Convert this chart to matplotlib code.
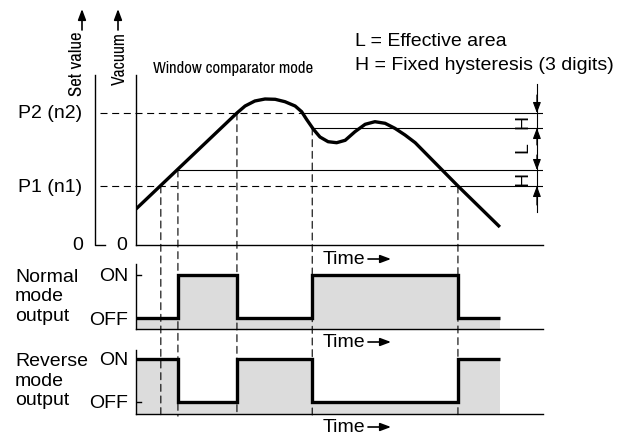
import matplotlib
matplotlib.use('Agg')
import matplotlib.pyplot as plt
from matplotlib.patches import ConnectionPatch, FancyArrowPatch
from matplotlib import font_manager as fm

plt.rcParams['font.family'] = ['Liberation Sans', 'DejaVu Sans']

# ---------------- data ----------------
# vacuum curve (time 0..100, vacuum in arbitrary units)
curve_t = [0, 24.8, 26.8, 29.2, 31.7, 34.2, 36.6, 39.1, 40.7, 41.9, 43.6, 45.2,
           47.2, 49.3, 51.4, 53.8, 56.3, 58.7, 61.2, 63.6, 66.1, 68.6, 79.1, 89.4]
curve_v = [36, 132, 139, 144, 146, 145.7, 143.3, 139, 133.3, 125.7, 115.7, 108,
           103.3, 102.3, 104.7, 113.3, 120.7, 123.3, 121.7, 116.7, 110, 102.3, 59, 18]

# set values
P1 = 59
P1H = 75      # P1 + H
P2H = 117     # P2 - H
P2 = 132

# crossing times
t_p1_rise = 6.1
t_on1 = 10.3
t_off1 = 24.8
t_p2_fall = 40.9
t_on2 = 43.3
t_off2 = 79.1
t_end = 89.4

guide_t = [t_p1_rise, t_on1, t_off1, t_on2, t_off2]
guide_v = [P1, P1H, P2, P2H, P1]

# outputs (step, post)
sig_t = [0, t_on1, t_off1, t_on2, t_off2, t_end]
normal_out = [0, 1, 0, 1, 0, 0]
reverse_out = [1, 0, 1, 0, 1, 1]

# ---------------- figure ----------------
W, H = 630, 439
fig = plt.figure(figsize=(W / 100, H / 100), dpi=100)
_r = fig.canvas.get_renderer()

# choose a condensed face whose proportions best match the reference
WIN_TXT = 'Window comparator mode'
_fnames = set()
for f in fm.fontManager.ttflist:
    key = (f.name + ' ' + f.fname).lower()
    if ('narrow' in key or 'condensed' in key) and f.style == 'normal' \
            and f.weight in (400, 'normal', 'regular'):
        _fnames.add(f.fname)
best = (abs(10 - 13), fm.FontProperties(family=['Liberation Sans', 'DejaVu Sans']))
for fn in sorted(_fnames):
    try:
        fp = fm.FontProperties(fname=fn, size=12)
        w, h, d = _r.get_text_width_height_descent(WIN_TXT, fp, ismath=False)
        fitted = 12 * 160 / w
        if abs(fitted - 13) < best[0]:
            best = (abs(fitted - 13), fm.FontProperties(fname=fn))
    except Exception:
        pass
NARROW_FP = best[1]

AX_L, AX_R = 136, 543


def px_axes(x0, x1, ytop, ybot):
    return fig.add_axes([x0 / W, 1 - ybot / H, (x1 - x0) / W, (ybot - ytop) / H])


def fx(x):
    return x / W


def fy(y):
    return 1 - y / H


def afrac(xpx):
    return (xpx - AX_L) / (AX_R - AX_L)


ax_top = px_axes(AX_L, AX_R, 76, 246)
ax_mid = px_axes(AX_L, AX_R, 265, 330)
ax_bot = px_axes(AX_L, AX_R, 351, 415)

ax_top.set_ylim(0, 170)
ax_mid.set_ylim(-0.256, 1.256)
ax_bot.set_ylim(-0.28, 1.21)

for ax in (ax_top, ax_mid, ax_bot):
    ax.set_xlim(0, 100)
    ax.set_facecolor('none')
    for s in ('top', 'right'):
        ax.spines[s].set_visible(False)
    for s in ('left', 'bottom'):
        ax.spines[s].set_linewidth(1.0)
    ax.set_xticks([])
    ax.set_yticks([])

K = 'black'
THIN = 0.8
DASH = (0, (6.3, 4.2))
FS = 14

# ---------- top panel ----------
XL = (100 - AX_L) / (AX_R - AX_L) * 100  # dashed lines start just right of set-value axis
ax_top.plot([XL, t_p2_fall], [P2, P2], color=K, lw=THIN, ls=DASH, clip_on=False)
ax_top.plot([t_p2_fall, 100], [P2, P2], color=K, lw=THIN)
ax_top.plot([t_on2, 100], [P2H, P2H], color=K, lw=THIN)
ax_top.plot([t_on1, 100], [P1H, P1H], color=K, lw=THIN)
ax_top.plot([XL, t_off2], [P1, P1], color=K, lw=THIN, ls=DASH, clip_on=False)
ax_top.plot([t_off2, 100], [P1, P1], color=K, lw=THIN)

ax_top.plot(curve_t, curve_v, color=K, lw=2.4, solid_joinstyle='round',
            solid_capstyle='butt', zorder=5)

# set value axis
yt = ax_top.get_yaxis_transform()
ax_top.plot([afrac(95), afrac(95), afrac(105)], [170, 0, 0], color=K, lw=1.0,
            transform=yt, clip_on=False)
ax_top.text(afrac(82), P2, 'P2 (n2)', transform=yt, ha='right', va='center', fontsize=FS)
ax_top.text(afrac(82), P1, 'P1 (n1)', transform=yt, ha='right', va='center', fontsize=FS)
ax_top.text(afrac(78), 0, '0', transform=yt, ha='center', va='center', fontsize=FS)
ax_top.text(afrac(122), 0, '0', transform=yt, ha='center', va='center', fontsize=FS)

# dimension marker on the right
t_dim = 98.5
ax_top.plot([t_dim, t_dim], [33, 161], color=K, lw=THIN, clip_on=False)
ap = dict(arrowstyle='-|>,head_length=0.8,head_width=0.3', mutation_scale=8,
          lw=THIN, color=K, shrinkA=0, shrinkB=0)
for tip, tail in [(P2, 150), (P2H, 100), (P1H, 90), (P1, 40)]:
    ax_top.annotate('', xy=(t_dim, tip), xytext=(t_dim, tail), arrowprops=ap,
                    annotation_clip=False)
t_lab = 95.1
ax_top.text(t_lab, (P2 + P2H) / 2, 'H', rotation=90, ha='center', va='center', fontsize=FS)
ax_top.text(t_lab, (P1 + P1H) / 2, 'H', rotation=90, ha='center', va='center', fontsize=FS)
ax_top.text(t_lab, 98, 'L', rotation=90, ha='center', va='center', fontsize=FS)

# ---------- output panels ----------
for ax, sig in ((ax_mid, normal_out), (ax_bot, reverse_out)):
    ybase = ax.get_ylim()[0]
    ax.fill_between(sig_t, sig, ybase, step='post', color='#dcdcdc', lw=0, zorder=1)
    ax.step(sig_t, sig, where='post', color=K, lw=2.4, zorder=4,
            solid_joinstyle='miter', solid_capstyle='butt')

ax_mid.plot([0, 1.3], [1, 1], color=K, lw=1.0, zorder=5)
ax_bot.plot([0, 1.3], [0, 0], color=K, lw=1.0, zorder=5)

yt_m = ax_mid.get_yaxis_transform()
yt_b = ax_bot.get_yaxis_transform()
ax_mid.text(afrac(128), 1, 'ON', transform=yt_m, ha='right', va='center', fontsize=FS)
ax_mid.text(afrac(128), -0.03, 'OFF', transform=yt_m, ha='right', va='center', fontsize=FS)
ax_bot.text(afrac(128), 1.0, 'ON', transform=yt_b, ha='right', va='center', fontsize=FS)
ax_bot.text(afrac(128), -0.02, 'OFF', transform=yt_b, ha='right', va='center', fontsize=FS)

for txt, y in (('Normal', 277), ('mode', 297), ('output', 317),
               ('Reverse', 362), ('mode', 382), ('output', 401)):
    fig.text(fx(15), fy(y), txt, ha='left', va='center', fontsize=FS)

# vertical guide lines spanning the panels
for t, v in zip(guide_t, guide_v):
    cp = ConnectionPatch(xyA=(t, v), coordsA=ax_top.transData,
                         xyB=(t, -0.33), coordsB=ax_bot.transData,
                         color=K, lw=THIN, linestyle=DASH, zorder=3)
    fig.add_artist(cp)

# Time labels
tap = dict(arrowstyle='-|>,head_length=0.8,head_width=0.3', mutation_scale=8,
           lw=1.2, color=K, shrinkA=0, shrinkB=0)
for y in (260, 343, 428):
    fig.text(fx(323), fy(y), 'Time', ha='left', va='center', fontsize=FS)
    fig.add_artist(FancyArrowPatch(
        (fx(368), fy(y)), (fx(391), fy(y)), transform=fig.transFigure, **tap))

# condensed titles, sized to the reference lengths
t_set = fig.text(fx(77), fy(64), 'Set value', rotation=90, ha='center', va='center',
                 fontproperties=NARROW_FP, fontsize=12)
t_vac = fig.text(fx(120), fy(59), 'Vacuum', rotation=90, ha='center', va='center',
                 fontproperties=NARROW_FP, fontsize=12)
t_win = fig.text(fx(153), fy(68), WIN_TXT, ha='left', va='center',
                 fontproperties=NARROW_FP, fontsize=12)
fig.canvas.draw()
_r = fig.canvas.get_renderer()
for txt, target, vertical in ((t_set, 65, True), (t_vac, 53, True), (t_win, 160, False)):
    bb = txt.get_window_extent(_r)
    length = bb.height if vertical else bb.width
    txt.set_fontsize(12 * target / length)

for x in (82, 118):
    fig.add_artist(FancyArrowPatch(
        (fx(x), fy(31)), (fx(x), fy(10)), transform=fig.transFigure, **tap))

fig.text(fx(355), fy(42), 'L = Effective area', ha='left', va='center', fontsize=FS)
fig.text(fx(355), fy(65), 'H = Fixed hysteresis (3 digits)', ha='left', va='center', fontsize=FS)

fig.savefig('out.png', dpi=100)
